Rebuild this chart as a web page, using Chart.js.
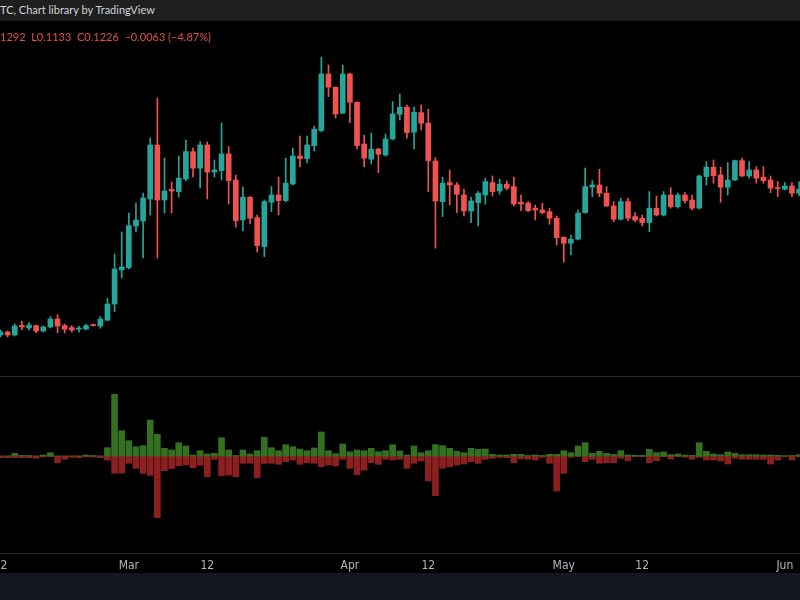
<!DOCTYPE html>
<html><head><meta charset="utf-8">
<script src="https://cdn.jsdelivr.net/npm/chart.js@4.4.1/dist/chart.umd.min.js"></script>
<style>
html,body{margin:0;padding:0;background:#000;width:800px;height:600px;overflow:hidden;}
#wrap{position:absolute;left:0;top:0;width:800px;height:600px;}
#hdr{position:absolute;left:0;top:0;width:800px;height:21px;background:#1e1e1e;color:#d1d4dc;font:11px Lato,sans-serif;line-height:20px;white-space:nowrap;z-index:2;}
#legend{position:absolute;left:0;top:30px;color:#e0504d;font:11px Lato,sans-serif;white-space:pre;z-index:2;}
#foot{position:absolute;left:0;top:573px;width:800px;height:27px;background:#131722;z-index:2;}
</style></head>
<body>
<div id="wrap"><canvas id="c" width="800" height="600"></canvas></div>
<div id="hdr">TC, Chart library by TradingView</div>
<div id="legend">1292  L0.1133  C0.1226  −0.0063 (−4.87%)</div>
<div id="foot"></div>
<script>
// Daily candles from 2024-02-12 (index 0) to 2024-06-03 (index 112)
const open = [0.0500,0.0515,0.0500,0.0548,0.0535,0.0547,0.0520,0.0540,0.0580,0.0547,
0.0537,0.0529,0.0530,0.0552,0.0545,0.0574,0.0655,0.0825,0.0837,0.1045,
0.1070,0.1180,0.1450,0.1175,0.1228,0.1217,0.1280,0.1417,0.1334,0.1450,
0.1315,0.1322,0.1405,0.1275,0.1075,0.1189,0.1087,0.0942,0.1164,0.1200,
0.1172,0.1255,0.1395,0.1382,0.1447,0.1522,0.1805,0.1739,0.1609,0.1805,
0.1664,0.1455,0.1379,0.1430,0.1400,0.1480,0.1604,0.1639,0.1514,0.1612,
0.1559,0.1370,0.1167,0.1262,0.1250,0.1200,0.1120,0.1162,0.1200,0.1262,
0.1220,0.1254,0.1242,0.1164,0.1159,0.1134,0.1125,0.1117,0.1084,0.0989,
0.0959,0.0979,0.1112,0.1239,0.1250,0.1209,0.1145,0.1079,0.1167,0.1092,
0.1084,0.1062,0.1134,0.1100,0.1200,0.1142,0.1200,0.1175,0.1134,0.1292,
0.1339,0.1300,0.1239,0.1275,0.1372,0.1295,0.1325,0.1289,0.1275,0.1237,
0.1229,0.1245,0.1209];
const high = [0.0525,0.0520,0.0555,0.0570,0.0562,0.0550,0.0545,0.0592,0.0602,0.0555,
0.0547,0.0545,0.0555,0.0555,0.0592,0.0684,0.0905,0.1015,0.1110,0.1160,
0.1210,0.1485,0.1685,0.1385,0.1265,0.1395,0.1475,0.1435,0.1467,0.1465,
0.1375,0.1560,0.1442,0.1300,0.1240,0.1192,0.1100,0.1175,0.1242,0.1290,
0.1384,0.1434,0.1495,0.1495,0.1545,0.1890,0.1850,0.1740,0.1850,0.1810,
0.1665,0.1500,0.1509,0.1433,0.1505,0.1667,0.1705,0.1650,0.1639,0.1650,
0.1629,0.1387,0.1289,0.1325,0.1262,0.1229,0.1189,0.1217,0.1284,0.1295,
0.1279,0.1270,0.1289,0.1200,0.1167,0.1150,0.1159,0.1134,0.1095,0.0990,
0.1000,0.1125,0.1334,0.1272,0.1329,0.1242,0.1167,0.1184,0.1184,0.1112,
0.1100,0.1217,0.1195,0.1217,0.1237,0.1209,0.1212,0.1200,0.1300,0.1367,
0.1375,0.1339,0.1362,0.1375,0.1384,0.1367,0.1342,0.1342,0.1295,0.1267,
0.1262,0.1262,0.1267];
const low = [0.0490,0.0490,0.0495,0.0525,0.0525,0.0510,0.0515,0.0535,0.0512,0.0510,
0.0515,0.0514,0.0525,0.0545,0.0534,0.0570,0.0617,0.0785,0.0830,0.1015,
0.0885,0.1100,0.0885,0.1110,0.1110,0.1190,0.1270,0.1290,0.1235,0.1180,
0.1290,0.1275,0.1155,0.1040,0.1020,0.1055,0.0915,0.0892,0.1117,0.1100,
0.1167,0.1250,0.1340,0.1360,0.1420,0.1517,0.1692,0.1585,0.1608,0.1562,
0.1430,0.1340,0.1355,0.1312,0.1395,0.1475,0.1575,0.1484,0.1430,0.1525,
0.1217,0.0934,0.1092,0.1150,0.1112,0.1095,0.1062,0.1045,0.1154,0.1195,
0.1204,0.1225,0.1145,0.1122,0.1117,0.1075,0.1105,0.1054,0.0950,0.0864,
0.0900,0.0975,0.1109,0.1192,0.1192,0.1142,0.1067,0.1075,0.1072,0.1067,
0.1045,0.1017,0.1095,0.1095,0.1134,0.1134,0.1159,0.1125,0.1130,0.1250,
0.1259,0.1164,0.1200,0.1272,0.1292,0.1284,0.1259,0.1259,0.1212,0.1192,
0.1225,0.1192,0.1195];
const close = [0.0515,0.0500,0.0545,0.0540,0.0550,0.0520,0.0540,0.0580,0.0545,0.0529,
0.0525,0.0535,0.0547,0.0547,0.0580,0.0655,0.0830,0.0840,0.1047,0.1075,
0.1185,0.1450,0.1175,0.1220,0.1220,0.1284,0.1417,0.1334,0.1450,0.1315,
0.1325,0.1405,0.1272,0.1072,0.1189,0.1084,0.0947,0.1167,0.1200,0.1172,
0.1259,0.1395,0.1382,0.1450,0.1529,0.1805,0.1739,0.1605,0.1805,0.1664,
0.1447,0.1384,0.1429,0.1404,0.1480,0.1605,0.1639,0.1512,0.1614,0.1559,
0.1372,0.1170,0.1259,0.1250,0.1204,0.1120,0.1170,0.1209,0.1267,0.1217,
0.1254,0.1234,0.1155,0.1155,0.1122,0.1125,0.1112,0.1084,0.0987,0.0959,
0.0979,0.1109,0.1242,0.1250,0.1209,0.1145,0.1079,0.1167,0.1084,0.1075,
0.1062,0.1134,0.1100,0.1200,0.1142,0.1200,0.1172,0.1134,0.1295,0.1339,
0.1297,0.1239,0.1275,0.1372,0.1295,0.1325,0.1284,0.1272,0.1234,0.1232,
0.1245,0.1209,0.1229];
// Lower pane: buy (up, green) and sell (down, red) volume
const buyVol = [0,0,2.7,0.5,0.5,0,1,3.3,0,0,
0,0,1,0.5,0,8.3,61.7,25.3,15.3,9.3,
10.3,36,21.7,7.7,6,13.3,10,1,5.3,2,
2.7,18.3,6,0.5,6,2,5.3,18.7,8.3,5.3,
11.3,9.3,7,5.3,8,24,5.3,2.3,12,4.3,
6,5.3,7.7,4.3,5.3,11.3,5,1,10,3.3,
5.3,11.3,10.3,7.7,4.7,3.3,7.7,6.7,7,1.7,
1,1,1.7,1.7,0.5,1,0.5,1.7,1.7,5.3,
3.3,10,13.3,2.7,4.7,2.7,1.7,5.3,1,0.7,
0.7,6.7,3.3,4,1.3,2,1,0.7,13.3,4.7,
2,1.3,4,2.7,1.3,1.3,1.3,1,1,0.7,
0.3,0.5,1.3];
const sellVol = [1.7,1.7,1.7,1.7,1.7,2.3,1,0.7,6.7,3.3,
1.3,1.7,1,1,1.7,4,17.3,17.3,7.3,12.3,
17.3,19.3,61.7,14.7,12.7,9.7,9,11.7,9.3,20.7,
3.3,19.7,19,20.7,7.3,7.3,21.7,7.5,7.3,8.3,
5.7,4,8.3,6.7,7.3,10.7,9,10,3.3,12.3,
18.7,14,6.7,8.3,3.3,4,3.3,12.3,7.3,5,
25,39.7,12.3,10.7,9,8,5.7,7.3,3.3,2.3,
1.3,1.7,6.7,2.7,3.3,4,1.3,7.3,35,17.3,
1.3,0.5,5.7,3.3,7.3,6.7,6.7,2.3,4.7,0.7,
0.7,6.7,4.7,0.7,3,0.7,1.3,3.3,1.3,4,
4,5,8,2.3,3.3,3.3,3.3,3.3,8,4,
0.7,4,0.7];
// Axis ticks (day index from 2024-02-12) and their labels
const tickDays = [0, 18, 29, 49, 60, 79, 90, 110];
const tickLabels = ['12', 'Mar', '12', 'Apr', '12', 'May', '12', 'Jun'];
const X_MIN = -0.07, X_MAX = 112.13;

const UP = '#26a69a', DOWN = '#ef5350';
const idx = open.map((_, i) => i);
const candleColors = idx.map(i => close[i] >= open[i] ? UP : DOWN);

new Chart(document.getElementById('c'), {
  type: 'bar',
  data: {
    datasets: [
      { label: 'wick', data: idx.map(i => ({ x: i, y: [low[i], high[i]] })),
        backgroundColor: candleColors, barThickness: 1, grouped: false, yAxisID: 'y', order: 2 },
      { label: 'body', data: idx.map(i => ({ x: i, y: [Math.min(open[i], close[i]), Math.max(open[i], close[i])] })),
        backgroundColor: candleColors, barThickness: 5, minBarLength: 1, grouped: false, yAxisID: 'y', order: 1 },
      { label: 'buy', data: idx.map(i => ({ x: i, y: buyVol[i] })),
        backgroundColor: '#33701f', barThickness: 6, grouped: false, yAxisID: 'yv', order: 3 },
      { label: 'sell', data: idx.map(i => ({ x: i, y: -sellVol[i] })),
        backgroundColor: '#8c1f1f', barThickness: 6, grouped: false, yAxisID: 'yv', order: 3 }
    ]
  },
  options: {
    responsive: false, animation: false,
    layout: { padding: { top: 22, bottom: 27, left: 0, right: 0 } },
    plugins: { legend: { display: false }, tooltip: { enabled: false } },
    scales: {
      x: {
        type: 'linear', min: X_MIN, max: X_MAX, offset: false, bounds: 'data',
        grid: { display: false, drawTicks: false, offset: false },
        border: { display: true, color: '#2a2a2a', width: 1 },
        afterDataLimits: s => { s.min = X_MIN; s.max = X_MAX; },
        afterBuildTicks: s => { s.ticks = tickDays.map(v => ({ value: v })); s.min = X_MIN; s.max = X_MAX; },
        ticks: {
          autoSkip: false, maxRotation: 0, color: '#b2b5be', padding: 6,
          font: { family: "'Liberation Sans Narrow', 'DejaVu Sans Condensed', sans-serif", size: 12 },
          callback: v => { const k = tickDays.indexOf(v); return k >= 0 ? tickLabels[k] : ''; }
        },
        afterFit: s => { s.height = 20; s.paddingLeft = 0; s.paddingRight = 0; }
      },
      y: { display: false, min: -0.059, max: 0.2065 },
      yv: {
        display: true, position: 'right', min: -97, max: 434,
        afterBuildTicks: s => { s.ticks = [{ value: 80 }]; },
        ticks: { display: false },
        grid: { color: '#2a2a2a', lineWidth: 1, drawTicks: false },
        border: { display: false },
        afterFit: s => { s.width = 0; }
      }
    }
  }
});
</script>
</body></html>
